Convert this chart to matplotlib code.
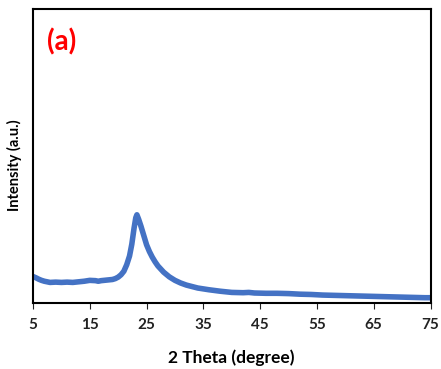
import matplotlib
matplotlib.use("Agg")
import matplotlib.pyplot as plt

# values (arbitrary intensity units, 0 = axis bottom)
two_theta = [5.0, 5.5, 6.0, 6.5, 7.0, 7.5, 8.0, 9.0, 10.0, 11.0, 12.0, 13.0, 14.0,
             15.0, 16.0, 16.5, 17.0, 18.0, 19.0, 19.5, 20.0, 20.5, 21.0, 21.5,
             22.0, 22.4, 22.8, 23.1, 23.3, 23.6, 24.0, 24.5, 25.0, 25.5, 26.0,
             26.5, 27.0, 28.0, 29.0, 30.0, 31.0, 32.0, 33.0, 34.0, 35.0, 36.0,
             38.0, 40.0, 42.0, 43.0, 44.0, 46.0, 48.0, 50.0, 52.0, 54.0, 56.0,
             58.0, 60.0, 62.0, 64.0, 66.0, 68.0, 70.0, 72.0, 74.0, 75.0]
intensity = [9.0, 8.6, 8.1, 7.7, 7.4, 7.2, 7.0, 7.1, 7.0, 7.1, 7.0, 7.2, 7.4,
             7.7, 7.6, 7.4, 7.6, 7.8, 8.0, 8.3, 8.8, 9.6, 10.8, 13.0,
             16.0, 20.0, 25.5, 29.0, 30.0, 28.5, 26.2, 23.0, 19.8, 17.5, 15.6,
             14.0, 12.6, 10.5, 8.9, 7.7, 6.8, 6.1, 5.6, 5.1, 4.8, 4.5,
             4.0, 3.6, 3.5, 3.6, 3.4, 3.3, 3.3, 3.2, 3.0, 2.9, 2.7,
             2.6, 2.5, 2.4, 2.3, 2.2, 2.1, 2.0, 1.9, 1.8, 1.8]
x_ticks = [5, 15, 25, 35, 45, 55, 65, 75]

plt.rcParams["font.family"] = ["Lato", "DejaVu Sans"]

fig = plt.figure(figsize=(4.41, 3.69), dpi=100)
ax = fig.add_axes([33 / 441, 1 - 303 / 369, 397.5 / 441, 294 / 369])

ax.plot(two_theta, intensity, color="#4472C4", linewidth=4.0,
        solid_joinstyle="round", solid_capstyle="butt")

ax.set_xlim(5, 75)
ax.set_ylim(0, 100)
ax.set_xticks(x_ticks)
ax.set_xticklabels([str(t) for t in x_ticks], fontsize=11, fontweight="bold")
ax.set_yticks([])
ax.tick_params(axis="x", direction="out", length=4, width=0.8, pad=7, colors="#222222")
for sp in ax.spines.values():
    sp.set_linewidth(1.5)
    sp.set_color("black")

ax.set_xlabel("2 Theta (degree)", fontsize=12.5, fontweight="bold", labelpad=12)
ax.set_ylabel("Intensity (a.u.)", fontsize=10.5, fontweight="bold")
ax.yaxis.set_label_coords(-0.028, 0.47)
ax.text(0.035, 0.935, "(a)", transform=ax.transAxes, color="#FF0000",
        fontsize=20, fontweight="bold", va="top", ha="left")

fig.savefig("out.png", dpi=100)
plt.close(fig)
